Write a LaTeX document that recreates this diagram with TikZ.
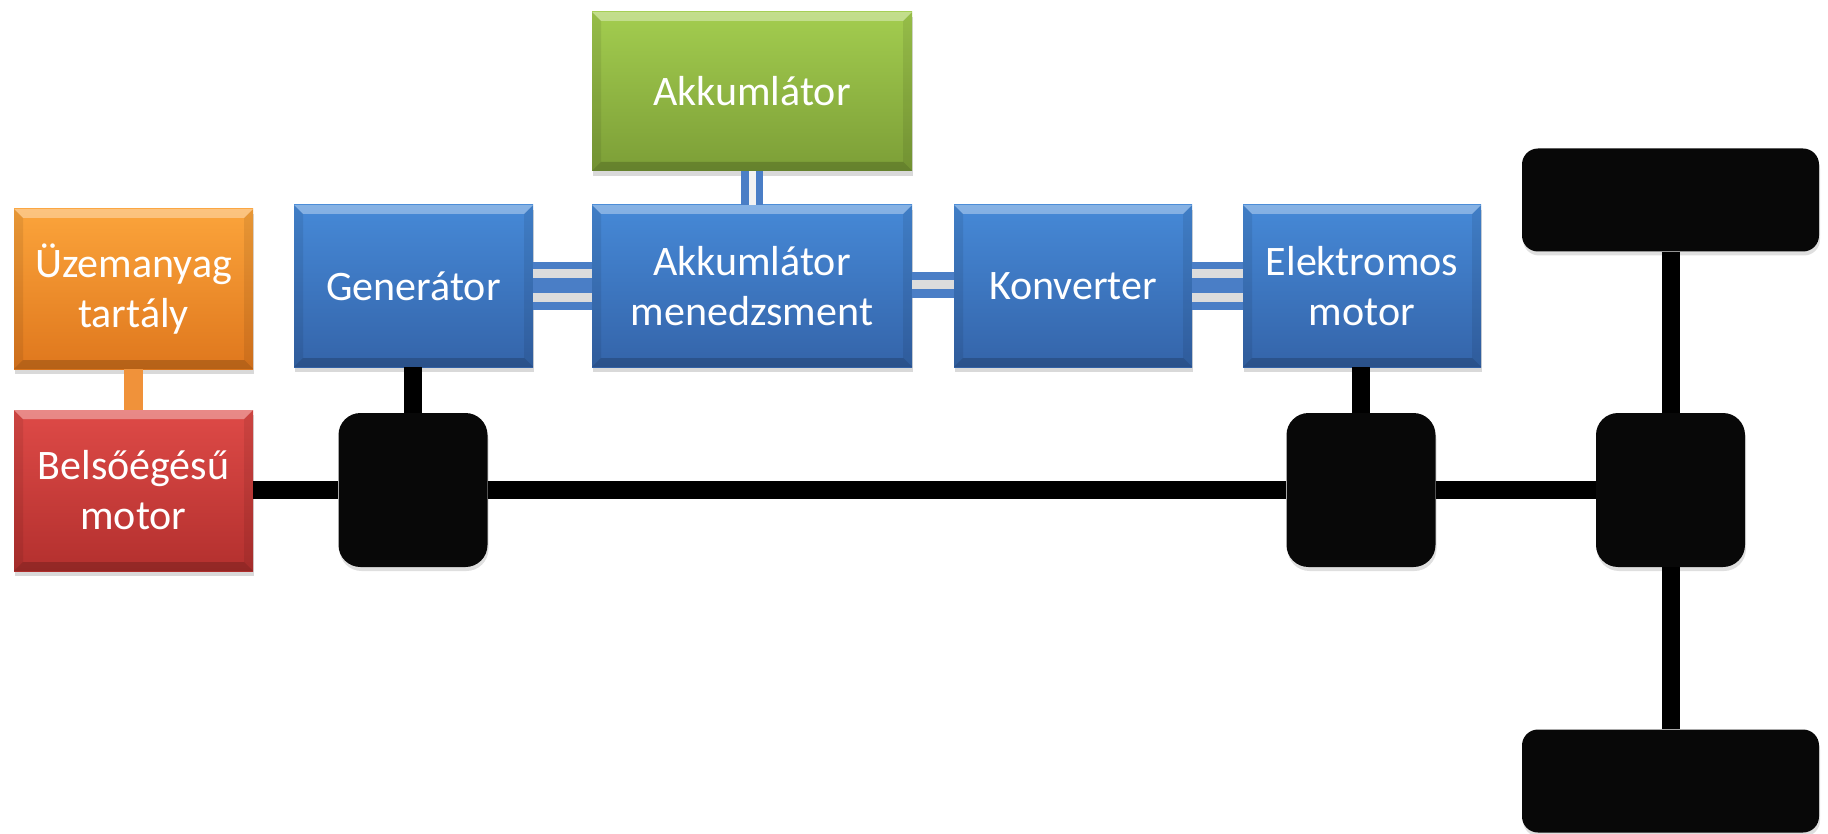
\documentclass[tikz,border=0pt]{standalone}
\usepackage{fontspec}
\setmainfont{Carlito}
\usetikzlibrary{shadows}
\definecolor{bluetop}{HTML}{4689D7}
\definecolor{bluebot}{HTML}{3464A9}
\definecolor{orangetop}{HTML}{FBA43B}
\definecolor{orangebot}{HTML}{DF771D}
\definecolor{redtop}{HTML}{DE4A47}
\definecolor{redbot}{HTML}{B3302E}
\definecolor{greentop}{HTML}{A3CD4F}
\definecolor{greenbot}{HTML}{7C9E37}
\definecolor{elecblue}{HTML}{4A7EC6}
\definecolor{stripe}{HTML}{DCDCDC}
\definecolor{orangelink}{HTML}{F0923A}
\definecolor{hubblack}{HTML}{080808}
\tikzset{
  bevelbox/.style={rectangle, inner sep=0pt, align=center, text=white,
    font=\fontsize{42}{50}\selectfont,
    drop shadow={shadow xshift=1pt, shadow yshift=-5pt, opacity=0.3},
    path picture={
      \fill[white,opacity=0.35] (path picture bounding box.north west) -- (path picture bounding box.north east)
        -- ([shift={(-9pt,-9pt)}]path picture bounding box.north east) -- ([shift={(9pt,-9pt)}]path picture bounding box.north west) -- cycle;
      \fill[black,opacity=0.18] (path picture bounding box.south west) -- (path picture bounding box.south east)
        -- ([shift={(-9pt,9pt)}]path picture bounding box.south east) -- ([shift={(9pt,9pt)}]path picture bounding box.south west) -- cycle;
      \fill[black,opacity=0.08] (path picture bounding box.north west) -- ([shift={(9pt,-9pt)}]path picture bounding box.north west)
        -- ([shift={(9pt,9pt)}]path picture bounding box.south west) -- (path picture bounding box.south west) -- cycle;
      \fill[black,opacity=0.08] (path picture bounding box.north east) -- ([shift={(-9pt,-9pt)}]path picture bounding box.north east)
        -- ([shift={(-9pt,9pt)}]path picture bounding box.south east) -- (path picture bounding box.south east) -- cycle;
    }},
  bluebox/.style={bevelbox, top color=bluetop, bottom color=bluebot},
  orangebox/.style={bevelbox, top color=orangetop, bottom color=orangebot},
  redbox/.style={bevelbox, top color=redtop, bottom color=redbot},
  greenbox/.style={bevelbox, top color=greentop, bottom color=greenbot},
  hubbox/.style={rectangle, rounded corners=22pt, fill=hubblack, minimum width=149pt, minimum height=154pt,
    drop shadow={shadow xshift=1pt, shadow yshift=-4pt, opacity=0.25}},
  wheelbox/.style={rectangle, rounded corners=16pt, fill=hubblack, minimum width=297pt, minimum height=103pt,
    drop shadow={shadow xshift=1pt, shadow yshift=-4pt, opacity=0.25}},
  shaft/.style={draw=black, line width=18pt},
  fuel/.style={draw=orangelink, line width=19pt},
  elec/.style={draw=elecblue},
  gap/.style={draw=stripe},
}
\begin{document}
\begin{tikzpicture}[x=1pt,y=-1pt]
\useasboundingbox (0,0) rectangle (1828,834);
% boxes
\node[orangebox, minimum width=239pt, minimum height=160pt] (tank) at (133.5,289) {Üzemanyag\\tartály};
\node[redbox, minimum width=239pt, minimum height=161pt] (engine) at (133.5,490.5) {Belsőégésű\\motor};
\node[bluebox, minimum width=239pt, minimum height=162pt] (gen) at (413.5,286) {Generátor};
\node[bluebox, minimum width=320pt, minimum height=162pt] (am) at (752,286) {Akkumlátor\\menedzsment};
\node[greenbox, minimum width=320pt, minimum height=159pt] (akk) at (752,91.5) {Akkumlátor};
\node[bluebox, minimum width=238pt, minimum height=162pt] (konv) at (1073,286) {Konverter};
\node[bluebox, minimum width=238pt, minimum height=162pt] (em) at (1362,286) {Elektromos\\motor};
% mechanical parts
\node[hubbox] (hub1) at (413,490) {};
\node[hubbox] (hub2) at (1361,490) {};
\node[hubbox] (hub3) at (1670.5,490) {};
\node[wheelbox] (wtop) at (1670.5,200) {};
\node[wheelbox] (wbot) at (1670.5,781) {};
% fuel link
\draw[fuel] (tank.south) -- (engine.north);
% mechanical shafts
\draw[shaft] (engine.east |- hub1.west) -- (hub1.west);
\draw[shaft] (hub1.east) -- (hub2.west);
\draw[shaft] (hub2.east) -- (hub3.west);
\draw[shaft] (gen.south -| hub1.north) -- (hub1.north);
\draw[shaft] (em.south -| hub2.north) -- (hub2.north);
\draw[shaft] (wtop.south) -- (hub3.north);
\draw[shaft] (hub3.south) -- (wbot.north);
% electrical links
\draw[elec, line width=48pt] (gen.east) -- (am.west);
\draw[gap, line width=9pt] ([yshift=12pt]gen.east) -- ([yshift=12pt]am.west);
\draw[gap, line width=9pt] ([yshift=-12pt]gen.east) -- ([yshift=-12pt]am.west);
\draw[elec, line width=26pt] ([yshift=1pt]am.east) -- ([yshift=1pt]konv.west);
\draw[gap, line width=9pt] ([yshift=1pt]am.east) -- ([yshift=1pt]konv.west);
\draw[elec, line width=48pt] (konv.east) -- (em.west);
\draw[gap, line width=9pt] ([yshift=12pt]konv.east) -- ([yshift=12pt]em.west);
\draw[gap, line width=9pt] ([yshift=-12pt]konv.east) -- ([yshift=-12pt]em.west);
\draw[elec, line width=22pt] (akk.south) -- (am.north);
\draw[draw=white!95!black, line width=7pt] (akk.south) -- (am.north);
\end{tikzpicture}
\end{document}
